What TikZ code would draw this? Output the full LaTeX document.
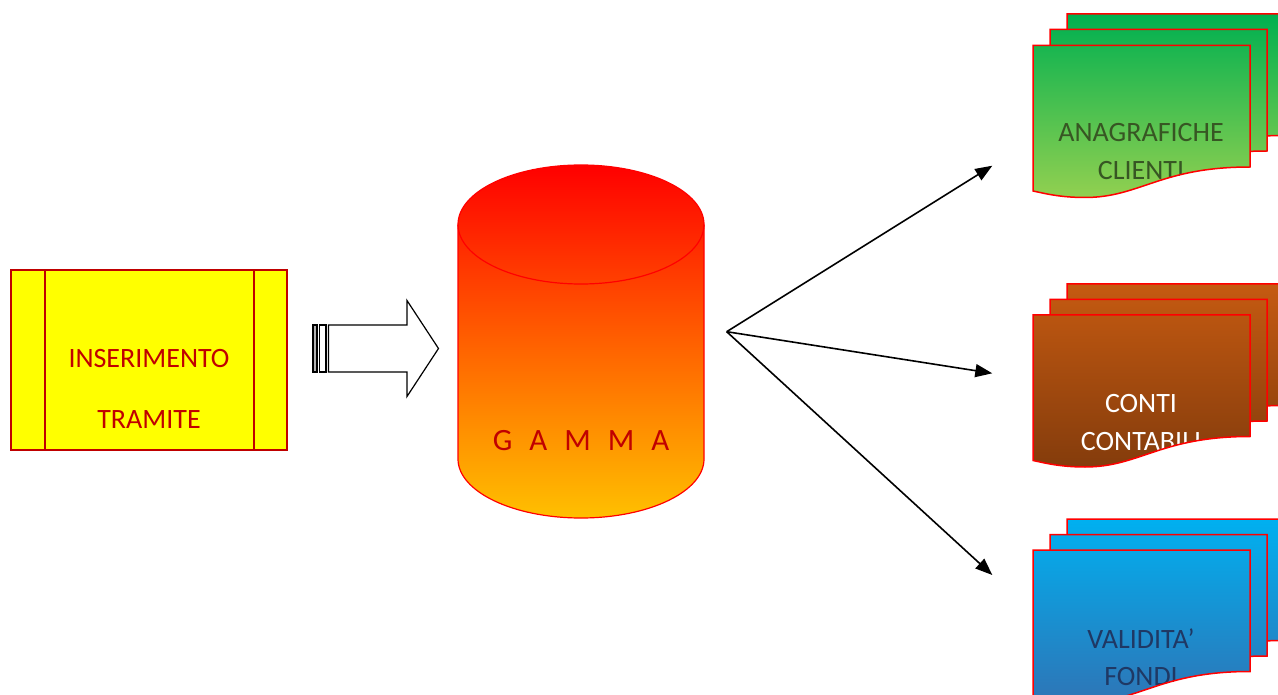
\documentclass[tikz,border=0pt]{standalone}
\usepackage{fontspec}
\setmainfont{Carlito}
\usetikzlibrary{arrows.meta}
\definecolor{boxred}{HTML}{C00000}
\definecolor{gA}{HTML}{00B050}
\definecolor{gB}{HTML}{92D050}
\definecolor{oA}{HTML}{C55A11}
\definecolor{oB}{HTML}{843C0C}
\definecolor{bA}{HTML}{00B0F0}
\definecolor{bB}{HTML}{2E75B6}
\definecolor{gtxt}{HTML}{375623}
\definecolor{btxt}{HTML}{1F3864}
\definecolor{cylA}{HTML}{FF0000}
\definecolor{cylM}{HTML}{FF8000}
\definecolor{cylB}{HTML}{FFC000}
\definecolor{yel}{HTML}{FFFF00}
\tikzset{
  lbl/.style={font=\fontsize{28}{30}\selectfont, inner sep=0pt, anchor=base},
  pageline/.style={draw=red, line width=1.5pt},
  conn/.style={line width=1.6pt, -{Triangle[length=17pt,width=13pt]}},
  blk/.style={draw=black, line width=1.2pt}
}
% one page of a stack, top-left corner at (#1,#2)
\newcommand\docpage[4]{%
  \begin{scope}[shift={(#1,#2)}]
    \shade[top color=#3, bottom color=#4, pageline]
      (0,0) -- (217,0) -- (217,121.5)
      .. controls (127,121.5) and (107,152) .. (52,152)
      .. controls (27,152) and (12,148) .. (0,145.5) -- cycle;
  \end{scope}}
% front page with clipped text
\newcommand\docfront[5]{%
  \begin{scope}[shift={(#1,#2)}]
    \shade[top color=#3, bottom color=#4]
      (0,0) -- (217,0) -- (217,121.5)
      .. controls (127,121.5) and (107,152) .. (52,152)
      .. controls (27,152) and (12,148) .. (0,145.5) -- cycle;
    \begin{scope}
      \clip (0,0) -- (217,0) -- (217,121.5)
        .. controls (127,121.5) and (107,152) .. (52,152)
        .. controls (27,152) and (12,148) .. (0,145.5) -- cycle;
      #5
    \end{scope}
    \draw[pageline]
      (0,0) -- (217,0) -- (217,121.5)
      .. controls (127,121.5) and (107,152) .. (52,152)
      .. controls (27,152) and (12,148) .. (0,145.5) -- cycle;
  \end{scope}}
\begin{document}
\begin{tikzpicture}[x=1pt,y=-1pt]
\clip (0,0) rectangle (1278,695);
\fill[white] (0,0) rectangle (1278,695);

% input box
\node[draw=boxred, fill=yel, line width=1.8pt, minimum width=276pt,
      minimum height=180pt, inner sep=0pt] (ins) at (149,360) {};
\draw[draw=boxred, line width=1.8pt] ([xshift=35pt]ins.north west) -- ([xshift=35pt]ins.south west);
\draw[draw=boxred, line width=1.8pt] ([xshift=-34pt]ins.north east) -- ([xshift=-34pt]ins.south east);
\node[lbl, text=boxred] (ins1) at (149,367) {INSERIMENTO};
\node[lbl, text=boxred] (ins2) at (149,428) {TRAMITE};

% block arrow
\draw[blk, fill=gray!60] (313,325) rectangle (317,372);
\draw[blk, fill=white] (319.5,325) rectangle (326,372);
\draw[blk, fill=white] (328.5,325) -- (407,325) -- (407,300.5) -- (438.5,348.5)
  -- (407,396.5) -- (407,372) -- (328.5,372) -- cycle;

% database cylinder
\shade[top color=cylA, middle color=cylM, bottom color=cylB, draw=red, line width=1.2pt]
  (458,224.5) -- (458,459)
  .. controls (458,491.6) and (513.1,518) .. (581,518)
  .. controls (648.9,518) and (704,491.6) .. (704,459)
  -- (704,224.5)
  .. controls (704,191.6) and (648.9,165) .. (581,165)
  .. controls (513.1,165) and (458,191.6) .. (458,224.5) -- cycle;
\draw[red, line width=1.2pt] (458,224.5)
  .. controls (458,257.4) and (513.1,284) .. (581,284)
  .. controls (648.9,284) and (704,257.4) .. (704,224.5);
\node[inner sep=0pt, anchor=base, text=boxred, font=\fontsize{31}{34}\selectfont]
  (gamma) at (581,450) {G\kern17ptA\kern17ptM\kern17ptM\kern17ptA};

% connectors
\coordinate (hub) at (726.7,331.7);
\coordinate (t1) at (992.3,165.7);
\coordinate (t2) at (992.3,373.3);
\coordinate (t3) at (992.3,575);
\draw[conn] (hub) -- (t1);
\draw[conn] (hub) -- (t2);
\draw[conn] (hub) -- (t3);

% green stack
\docpage{1067}{14}{gA}{gB!83!gA}
\docpage{1050}{29.5}{gB!8!gA}{gB!92!gA}
\docfront{1033}{45.5}{gB!17!gA}{gB}{%
  \node[lbl, text=gtxt] (ana1) at (108,96.2) {ANAGRAFICHE};
  \node[lbl, text=gtxt] (ana2) at (108,134.5) {CLIENTI};}

% orange stack
\docpage{1067}{284}{oA}{oB!83!oA}
\docpage{1050}{299.5}{oB!8!oA}{oB!92!oA}
\docfront{1033}{315}{oB!17!oA}{oB}{%
  \node[lbl, text=white] (con1) at (108,97.7) {CONTI};
  \node[lbl, text=white] (con2) at (108,135) {CONTABILI};}

% blue stack
\docpage{1067}{519}{bA}{bB!83!bA}
\docpage{1050}{534.5}{bB!8!bA}{bB!92!bA}
\docfront{1033}{550}{bB!17!bA}{bB}{%
  \node[lbl, text=btxt] (val1) at (108,98) {VALIDITA’};
  \node[lbl, text=btxt] (val2) at (108,135) {FONDI};}
\end{tikzpicture}
\end{document}
